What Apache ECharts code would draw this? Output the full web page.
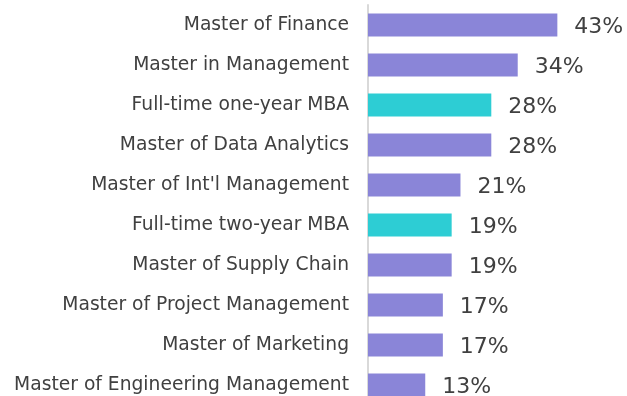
<!DOCTYPE html>
<html>
<head>
<meta charset="utf-8">
<script src="https://cdn.jsdelivr.net/npm/echarts@6/dist/echarts.min.js"></script>
<style>
  html, body { margin: 0; padding: 0; background: #fff; }
  #main { width: 627px; height: 396px; }
</style>
</head>
<body>
<div id="main"></div>
<script>
// programs, top to bottom
var programs = [
  "Master of Finance",
  "Master in Management",
  "Full-time one-year MBA",
  "Master of Data Analytics",
  "Master of Int'l Management",
  "Full-time two-year MBA",
  "Master of Supply Chain",
  "Master of Project Management",
  "Master of Marketing",
  "Master of Engineering Management"
];
// share in percent
var shares = [43, 34, 28, 28, 21, 19, 19, 17, 17, 13];
// the MBA rows are drawn in the accent colour
var mbaPrograms = ["Full-time one-year MBA", "Full-time two-year MBA"];

var purple = "#8a85d8";
var teal = "#2dcdd4";

var myChart = echarts.init(document.getElementById("main"));

var barData = shares.map(function (v, i) {
  return {
    value: v,
    itemStyle: { color: mbaPrograms.indexOf(programs[i]) >= 0 ? teal : purple }
  };
});

var option = {
  animation: false,
  grid: { left: 368, top: 5, width: 251, height: 400, outerBoundsMode: "none", containLabel: false },
  xAxis: {
    type: "value",
    min: 0,
    max: 57,
    show: false
  },
  yAxis: {
    type: "category",
    data: programs,
    inverse: true,
    axisLine: { show: true, lineStyle: { color: "#d9d9d9", width: 2 } },
    axisTick: { show: false },
    axisLabel: {
      color: "#404040",
      fontFamily: "DejaVu Sans",
      fontSize: 18.7,
      margin: 19
    }
  },
  series: [
    {
      type: "bar",
      data: barData,
      barWidth: 23,
      label: {
        show: true,
        position: "right",
        distance: 17,
        formatter: "{c}%",
        color: "#404040",
        fontFamily: "DejaVu Sans",
        fontSize: 22,
        offset: [0, 2]
      }
    }
  ]
};

myChart.setOption(option);
</script>
</body>
</html>
